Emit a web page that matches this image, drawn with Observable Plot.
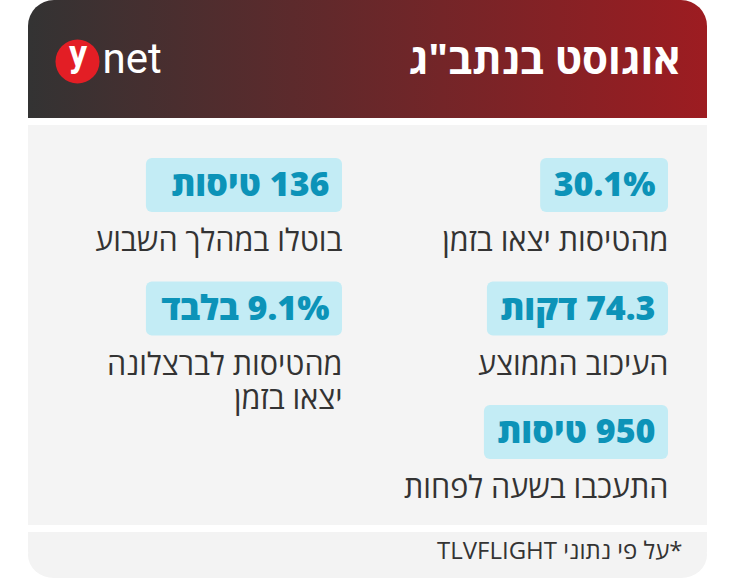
<!DOCTYPE html>
<html><head><meta charset="utf-8">
<script src="https://cdn.jsdelivr.net/npm/d3@7"></script>
<script src="https://cdn.jsdelivr.net/npm/@observablehq/plot@0.6"></script>
<style>
html,body{margin:0;padding:0;background:#fff;}
#chart svg{display:block;}
g[aria-label="title"] text{font-stretch:80%;}
</style></head><body><div id="chart"></div>
<script>
// ---- data ----
const brandMark = "y";
const brandName = "net";
const title = "אוגוסט בנתב\"ג";
const statValues = ["30.1%", "136 טיסות", "74.3 דקות", "9.1% בלבד", "950 טיסות"];
const statLabels = ["מהטיסות יצאו בזמן", "בוטלו במהלך השבוע", "העיכוב הממוצע", "מהטיסות לברצלונה\nיצאו בזמן", "התעכבו בשעה לפחות"];
const source = "*על פי נתוני TLVFLIGHT";

// ---- layout & style ----
const W = 740, H = 579;
const L = {
  left: 28, right: 707, radius: 26,
  headerBottom: 118, bodyTop: 125, bodyBottom: 525, footerTop: 532, footerBottom: 578,
  colRight: [668, 342], rowTop: 158, rowStep: 123.5, boxH: 54, padL: 13, padR: 13,
  labelOffset: 90
};
const C = {gradL: "#333333", gradR: "#9d1c21", body: "#f4f4f4", footer: "#f3f3f3", box: "#c3ecf5", value: "#0c93b8", label: "#333333", logo: "#e31e25"};
const valueFont = {size: 34, weight: 800, family: "'Open Sans', sans-serif"};
const labelFont = {size: 30.5, weight: 400, family: "'Open Sans', sans-serif"};

const RLE = "\u202B", PDF = "\u202C";
const rtl = s => s.split("\n").map(t => RLE + t + PDF).join("\n");

const ctx = document.createElement("canvas").getContext("2d");
ctx.font = `${valueFont.weight} ${valueFont.size}px ${valueFont.family}`;
const textW = statValues.map(v => ctx.measureText(v).width);

const items = statValues.map((v, i) => ({value: v, label: statLabels[i], col: i % 2, row: Math.floor(i / 2), w: textW[i]}));
const colMax = [0, 1].map(c => d3.max(items.filter(d => d.col === c), d => d.w));
items.forEach(d => {
  const bw = (d.col === 1 ? colMax[1] + 2 : d.w) + L.padL + L.padR;
  d.x2 = L.colRight[d.col];
  d.x1 = d.x2 - bw;
  d.y1 = L.rowTop + d.row * L.rowStep;
  d.y2 = d.y1 + L.boxH;
  d.tx = d.x2 - L.padR;
  d.ty = (d.y1 + d.y2) / 2;
});

const panels = [
  {x1: L.left, x2: L.right, y1: 0, y2: L.headerBottom, r: L.radius, fill: "url(#hdr)"},
  {x1: L.left, x2: L.right, y1: 50, y2: L.headerBottom, r: 0, fill: "url(#hdr)"},
  {x1: L.left, x2: L.right, y1: L.bodyTop, y2: L.bodyBottom, r: 0, fill: C.body},
  {x1: L.left, x2: L.right, y1: L.footerTop, y2: L.footerBottom, r: L.radius, fill: C.footer},
  {x1: L.left, x2: L.right, y1: L.footerTop, y2: L.footerTop + 20, r: 0, fill: C.footer}
];

const chart = Plot.plot({
  width: W, height: H,
  marginTop: 0, marginRight: 0, marginBottom: 0, marginLeft: 0,
  x: {domain: [0, W], range: [0, W], axis: null},
  y: {domain: [0, H], range: [0, H], axis: null},
  marks: [
    Plot.rect(panels.filter(p => p.r), {x1: "x1", x2: "x2", y1: "y1", y2: "y2", fill: "fill", rx: L.radius}),
    Plot.rect(panels.filter(p => !p.r), {x1: "x1", x2: "x2", y1: "y1", y2: "y2", fill: "fill"}),
    Plot.dot([brandMark], {x: () => 77, y: () => 61, r: 22, fill: C.logo, stroke: null}),
    Plot.text([brandMark], {x: () => 77.5, y: () => 65, text: d => d, fill: "white", fontSize: 36, fontWeight: 700, fontFamily: "Roboto", lineAnchor: "bottom", textAnchor: "middle"}),
    Plot.text([brandName], {x: () => 102, y: () => 72, text: d => d, fill: "white", fontSize: 42, fontWeight: 400, fontFamily: "Roboto", lineAnchor: "bottom", textAnchor: "start"}),
    Plot.text([title], {x: () => 680, y: () => 73, text: d => rtl(d), fill: "white", fontSize: 42, fontWeight: 700, fontFamily: "'Open Sans'", lineAnchor: "bottom", textAnchor: "end", ariaLabel: "title"}),
    Plot.rect(items, {x1: "x1", x2: "x2", y1: "y1", y2: "y2", fill: C.box, rx: 6}),
    Plot.text(items, {x: "tx", y: "ty", text: d => rtl(d.value), fill: C.value, fontSize: valueFont.size, fontWeight: valueFont.weight, fontFamily: valueFont.family, lineAnchor: "middle", textAnchor: "end"}),
    Plot.text(items, {x: "x2", y: d => d.y1 + L.labelOffset - labelFont.size * 0.71, text: d => rtl(d.label), fill: C.label, fontSize: labelFont.size, fontWeight: labelFont.weight, fontFamily: labelFont.family, lineAnchor: "top", lineHeight: 1.12, textAnchor: "end"}),
    Plot.text([source], {x: () => 682, y: () => 558, text: d => rtl(d), fill: C.label, fontSize: 24, fontFamily: "'Open Sans'", lineAnchor: "bottom", textAnchor: "end"})
  ]
});

const defs = d3.select(chart).insert("defs", ":first-child");
const grad = defs.append("linearGradient").attr("id", "hdr").attr("gradientUnits", "userSpaceOnUse")
  .attr("x1", L.left).attr("x2", L.right).attr("y1", 0).attr("y2", 0);
grad.append("stop").attr("offset", 0).attr("stop-color", C.gradL);
grad.append("stop").attr("offset", 1).attr("stop-color", C.gradR);

document.getElementById("chart").appendChild(chart);
</script></body></html>
